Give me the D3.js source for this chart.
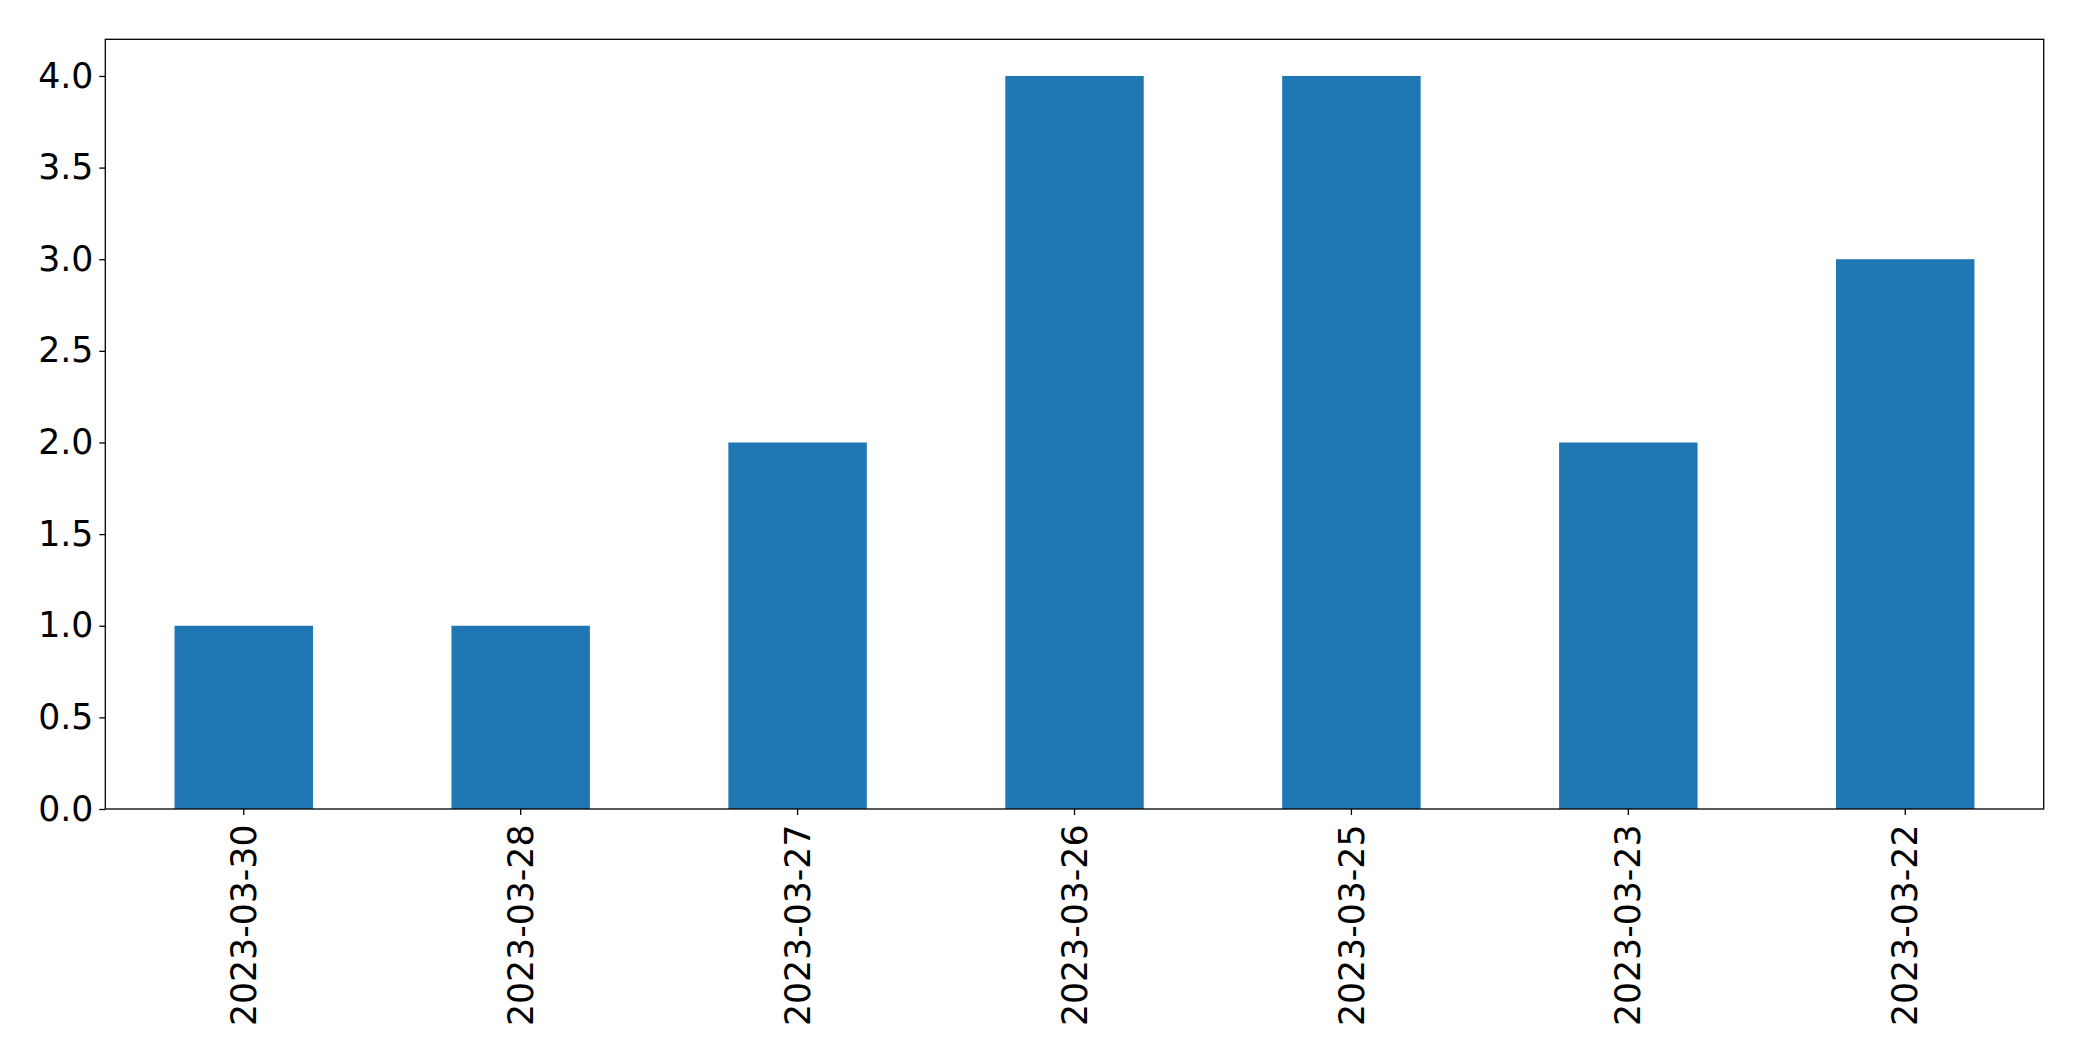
<!DOCTYPE html>
<html><head><meta charset="utf-8">
<script src="https://cdn.jsdelivr.net/npm/d3@7"></script>
<style>html,body{margin:0;padding:0;background:#fff;}svg{display:block;}</style>
</head><body>
<script>
const categories = ["2023-03-30","2023-03-28","2023-03-27","2023-03-26","2023-03-25","2023-03-23","2023-03-22"];
const values = [1,1,2,4,4,2,3];
const yTicks = [0,0.5,1,1.5,2,2.5,3,3.5,4];

const W = 2082, H = 1061;
const m = {left:105.3, right:2082-2043.7, top:39.3, bottom:1061-809};
const fontSize = 34.7, tickLen = 6, pad = 6;

const svg = d3.select("body").append("svg").attr("width",W).attr("height",H);
const iw = W - m.left - m.right, ih = H - m.top - m.bottom;
const g = svg.append("g").attr("transform",`translate(${m.left},${m.top})`);

const x = d3.scaleBand().domain(categories).range([0,iw]).paddingInner(0.5).paddingOuter(0.25);
const y = d3.scaleLinear().domain([0,4.2]).range([ih,0]);

g.selectAll("rect.bar").data(values).join("rect").attr("class","bar")
  .attr("x",(d,i)=>x(categories[i])).attr("width",x.bandwidth())
  .attr("y",d=>y(d)).attr("height",d=>y(0)-y(d)).attr("fill","#1f77b4");

const yAxis = g.append("g").call(d3.axisLeft(y).tickValues(yTicks).tickFormat(d3.format(".1f")).tickSize(tickLen).tickPadding(pad));
const xAxis = g.append("g").attr("transform",`translate(0,${ih})`).call(d3.axisBottom(x).tickSize(tickLen).tickPadding(pad));
[yAxis,xAxis].forEach(a=>{
  a.select(".domain").remove();
  a.selectAll(".tick line").attr("stroke","#000").attr("stroke-width",1.3);
  a.selectAll("text").attr("fill","#000").style("font-family","DejaVu Sans").style("font-size",fontSize+"px");
});
xAxis.selectAll("text")
  .attr("transform","rotate(-90)")
  .attr("text-anchor","end")
  .attr("x",-(tickLen+pad+3.5)).attr("y",0).attr("dy","0.35em");

g.append("rect").attr("x",0).attr("y",0).attr("width",iw).attr("height",ih)
  .attr("fill","none").attr("stroke","#000").attr("stroke-width",1.3);
</script>
</body></html>
